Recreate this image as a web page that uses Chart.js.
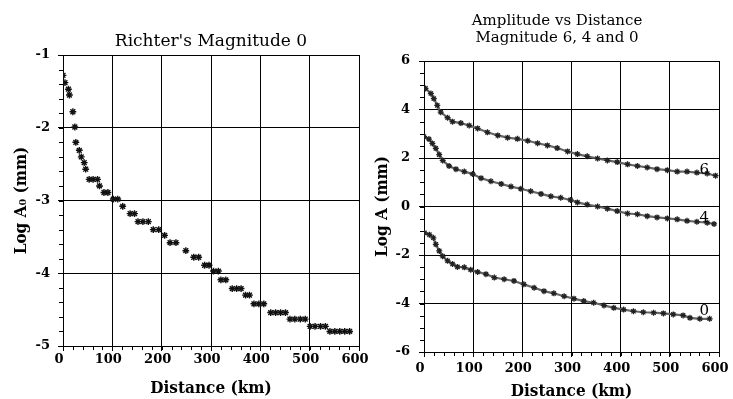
<!DOCTYPE html>
<html><head><meta charset="utf-8">
<script src="https://cdn.jsdelivr.net/npm/chart.js@4/dist/chart.umd.min.js"></script>
<style>
html,body{margin:0;padding:0;background:#fff;overflow:hidden;width:733px;height:399px;}
#c1{position:absolute;left:0;top:0;width:370px;height:399px;}
#c2{position:absolute;left:370px;top:0;width:363px;height:399px;}
</style></head><body>
<canvas id="c1" width="370" height="399"></canvas>
<canvas id="c2" width="363" height="399"></canvas>
<script>
// ---- Left chart: Richter's Magnitude 0 ----
const richterDistance = [0,4,11,13,20,24,26,33,37,43,46,53,61,70,74,83,91,102,111,121,136,145,152,162,173,183,194,206,217,229,249,265,275,287,296,305,315,320,330,343,352,361,370,378,387,397,407,421,431,441,451,460,470,481,491,501,511,522,532,541,551,561,571,581];
const richterLogA0 = [-1.28,-1.38,-1.47,-1.55,-1.78,-1.99,-2.20,-2.31,-2.40,-2.48,-2.57,-2.71,-2.71,-2.71,-2.80,-2.89,-2.89,-2.98,-2.98,-3.08,-3.18,-3.18,-3.29,-3.29,-3.29,-3.40,-3.40,-3.48,-3.58,-3.58,-3.69,-3.78,-3.78,-3.89,-3.89,-3.97,-3.97,-4.09,-4.09,-4.21,-4.21,-4.21,-4.30,-4.30,-4.42,-4.42,-4.42,-4.54,-4.54,-4.54,-4.54,-4.63,-4.63,-4.63,-4.63,-4.73,-4.73,-4.73,-4.73,-4.80,-4.80,-4.80,-4.80,-4.80];

// ---- Right chart: Amplitude vs Distance ----
const dist6 = [3,14,20,27,34,48,58,75,92,109,129,150,170,190,211,231,251,271,292,312,332,353,373,393,414,434,454,474,495,515,535,555,576,593];
const logA6 = [4.87,4.66,4.45,4.17,3.89,3.66,3.50,3.44,3.34,3.22,3.06,2.93,2.84,2.79,2.71,2.61,2.52,2.41,2.27,2.16,2.07,1.98,1.90,1.83,1.74,1.67,1.61,1.54,1.50,1.44,1.44,1.40,1.36,1.27];
const dist4 = [0,10,17,24,31,38,51,65,82,99,116,136,157,177,197,217,238,258,278,298,312,332,353,373,393,414,434,454,474,495,515,535,555,576,590];
const logA4 = [2.88,2.78,2.60,2.40,2.14,1.90,1.67,1.54,1.44,1.34,1.17,1.04,0.93,0.82,0.73,0.63,0.52,0.42,0.36,0.27,0.17,0.08,0.00,-0.09,-0.19,-0.29,-0.32,-0.40,-0.45,-0.49,-0.53,-0.59,-0.63,-0.67,-0.72];
const dist0 = [1,11,19,24,31,38,48,58,68,82,95,109,126,143,163,183,203,224,244,264,285,305,325,345,366,386,406,426,446,467,487,507,527,541,561,581];
const logA0 = [-1.09,-1.16,-1.29,-1.56,-1.83,-2.05,-2.24,-2.37,-2.49,-2.51,-2.61,-2.70,-2.79,-2.93,-3.00,-3.07,-3.21,-3.35,-3.49,-3.58,-3.70,-3.80,-3.90,-3.97,-4.08,-4.18,-4.25,-4.32,-4.36,-4.38,-4.41,-4.45,-4.49,-4.59,-4.63,-4.63];

const curveLabels = ['6','4','0'];
const curveLabelDistance = [570,570,570];
const curveLabelLogA = [1.52,-0.46,-4.32];

const SERIF = "'DejaVu Serif', serif";
const SERIF_C = "'DejaVu Serif Condensed', 'DejaVu Serif', serif";

const pts = (xs, ys) => xs.map((v, i) => ({x: v, y: ys[i]}));

const minorTicks = {
  id: 'minorTicks',
  afterDraw(chart, args, o) {
    if (!o || !o.xStep) return;
    const {ctx, chartArea: a, scales: {x, y}} = chart;
    ctx.save();
    ctx.strokeStyle = '#000'; ctx.lineWidth = 1;
    ctx.beginPath();
    const nx = Math.round((x.max - x.min) / o.xStep);
    for (let i = 0; i <= nx; i++) {
      const px = Math.round(x.getPixelForValue(x.min + i * o.xStep)) + 0.5;
      ctx.moveTo(px, a.bottom); ctx.lineTo(px, a.bottom + o.len);
    }
    const ny = Math.round((y.max - y.min) / o.yStep);
    for (let i = 0; i <= ny; i++) {
      const py = Math.round(y.getPixelForValue(y.min + i * o.yStep)) + 0.5;
      ctx.moveTo(a.left - o.len, py); ctx.lineTo(a.left, py);
    }
    ctx.stroke();
    ctx.restore();
  }
};

const curveLabelPlugin = {
  id: 'curveLabels',
  afterDatasetsDraw(chart, args, o) {
    if (!o || !o.labels) return;
    const {ctx, scales: {x, y}} = chart;
    ctx.save();
    ctx.font = o.font; ctx.fillStyle = '#000';
    ctx.textAlign = 'center'; ctx.textBaseline = 'middle';
    o.labels.forEach((t, i) => ctx.fillText(t, x.getPixelForValue(o.xs[i]), y.getPixelForValue(o.ys[i])));
    ctx.restore();
  }
};
Chart.register(minorTicks, curveLabelPlugin);

function axisX(height, tickPad, titlePadBottom) {
  return {
    type: 'linear', min: 0, max: 600,
    ticks: {stepSize: 100, color: '#000', font: {family: SERIF, size: 13, weight: 'bold'}, padding: tickPad, labelOffset: -4, maxRotation: 0},
    grid: {color: '#000', lineWidth: 1, tickLength: 5, drawTicks: true},
    border: {color: '#000', width: 1},
    title: {display: true, text: 'Distance (km)', color: '#000', font: {family: SERIF_C, size: 17, weight: 'bold'}, padding: {top: 0, bottom: titlePadBottom}},
    afterFit(s) { s.height = height; s.paddingLeft = 0; s.paddingRight = 0; }
  };
}
function axisY(min, max, step, width, tickPad, title, titlePad) {
  return {
    type: 'linear', min: min, max: max,
    ticks: {stepSize: step, color: '#000', font: {family: SERIF, size: 13, weight: 'bold'}, padding: tickPad},
    grid: {color: '#000', lineWidth: 1, tickLength: 5, drawTicks: true},
    border: {color: '#000', width: 1},
    title: {display: true, text: title, color: '#000', font: {family: SERIF_C, size: 17, weight: 'bold'}, padding: {top: titlePad, bottom: 0}},
    afterFit(s) { s.width = width; }
  };
}

new Chart(document.getElementById('c1'), {
  type: 'scatter',
  data: {datasets: [{
    label: 'Magnitude 0',
    data: pts(richterDistance, richterLogA0),
    pointStyle: 'star', pointRadius: 3.4, pointBorderWidth: 1.4,
    borderColor: '#111', backgroundColor: '#111', showLine: false
  }]},
  options: {
    responsive: false, animation: false, devicePixelRatio: 1,
    layout: {padding: {left: 0, right: 11, top: 0, bottom: 0}},
    plugins: {
      legend: {display: false}, tooltip: {enabled: false},
      title: {display: true, fullSize: false, text: "Richter's Magnitude 0", color: '#000', font: {family: SERIF, size: 17, weight: 'normal'}, padding: {top: 31, bottom: 3.6}},
      minorTicks: {xStep: 20, yStep: 0.2, len: 4}
    },
    scales: {
      x: axisX(53, 1, 0),
      y: axisY(-5, -1, 1, 63, 8, 'Log A\u2080 (mm)', 11.8)
    }
  }
});

const starSet = (label, xs, ys) => ({
  label: label, data: pts(xs, ys), showLine: true,
  borderColor: '#666', borderWidth: 2.2,
  pointStyle: 'star', pointRadius: 3, pointBorderWidth: 1.3,
  pointBorderColor: '#222', pointBackgroundColor: '#222'
});

new Chart(document.getElementById('c2'), {
  type: 'scatter',
  data: {datasets: [
    starSet('Magnitude 6', dist6, logA6),
    starSet('Magnitude 4', dist4, logA4),
    starSet('Magnitude 0', dist0, logA0)
  ]},
  options: {
    responsive: false, animation: false, devicePixelRatio: 1,
    layout: {padding: {left: 25, right: 14, top: 0, bottom: 0}},
    plugins: {
      legend: {display: false}, tooltip: {enabled: false},
      title: {display: true, text: ['Amplitude vs Distance', 'Magnitude 6, 4 and 0'], color: '#000', font: {family: SERIF, size: 15, weight: 'normal', lineHeight: '17px'}, padding: {top: 13, bottom: 14}},
      minorTicks: {xStep: 20, yStep: 0.5, len: 4},
      curveLabels: {labels: curveLabels, xs: curveLabelDistance, ys: curveLabelLogA, font: "15px 'DejaVu Serif', serif"}
    },
    scales: {
      x: axisX(47, 4, -3),
      y: axisY(-6, 6, 2, 29, 9, 'Log A (mm)', -22.2)
    }
  }
});
</script>
</body></html>
